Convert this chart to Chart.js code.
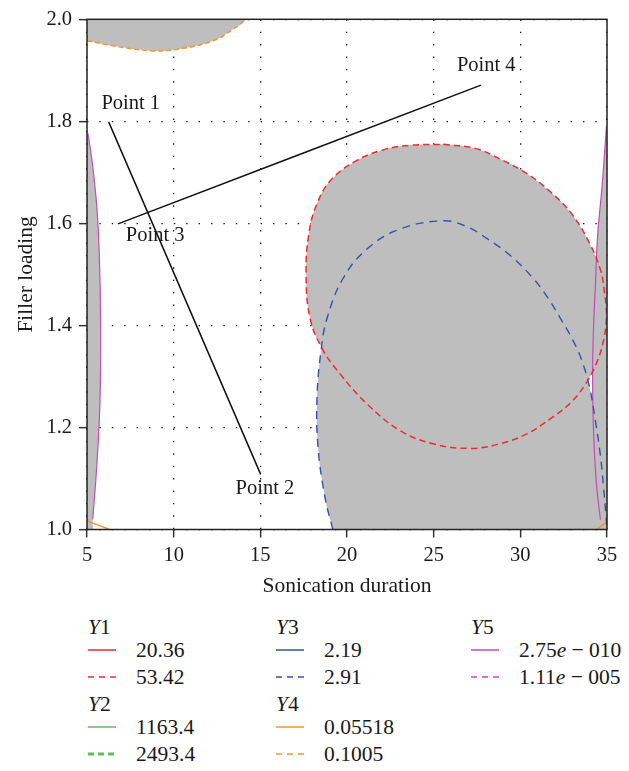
<!DOCTYPE html>
<html>
<head>
<meta charset="utf-8">
<script src="https://cdn.jsdelivr.net/npm/chart.js@4.4.0/dist/chart.umd.min.js"></script>
<style>
  body { margin: 0; background: #fff; }
  #wrap { position: relative; width: 629px; height: 771px; font-family: 'Liberation Serif', serif; color: #1a1a1a; }
  #chartBox { position: absolute; left: 0; top: 0; width: 629px; height: 600px; }
  .lg { position: absolute; font-size: 21.5px; line-height: 24px; white-space: nowrap; }
</style>
</head>
<body>
<div id="wrap">
  <div id="chartBox"><canvas id="chart"></canvas></div>
  <div id="legend"></div>
</div>
<script>
// axes
const xTicks = [5, 10, 15, 20, 25, 30, 35];
const yTicks = [1.0, 1.2, 1.4, 1.6, 1.8, 2.0];

// Y1 = 53.42 (dashed red), closed contour
const y1DashX = [25.55, 27.40, 28.84, 30.40, 31.73, 33.00, 34.04, 34.62, 34.85, 34.97, 34.79, 34.39, 33.76, 32.89, 31.73, 30.40, 28.84, 27.11, 24.97, 23.06, 21.16, 19.60, 18.56, 17.87, 17.64, 17.80, 18.25, 19.05, 20.50, 22.08, 23.64, 25.55];
const y1DashY = [1.755, 1.747, 1.726, 1.697, 1.662, 1.617, 1.558, 1.509, 1.466, 1.418, 1.369, 1.326, 1.285, 1.248, 1.217, 1.188, 1.168, 1.159, 1.168, 1.194, 1.246, 1.305, 1.355, 1.414, 1.499, 1.580, 1.637, 1.684, 1.722, 1.744, 1.753, 1.755];

// Y3 = 2.91 (dashed blue)
const y3DashX = [19.18, 18.73, 18.33, 18.27, 18.50, 18.85, 19.77, 21.16, 23.06, 25.55, 26.82, 28.09, 29.42, 30.75, 31.61, 32.31, 33.00, 33.52, 33.98, 34.33, 34.62, 34.79, 34.94, 35.0];
const y3DashY = [1.0, 1.063, 1.161, 1.258, 1.350, 1.414, 1.492, 1.550, 1.589, 1.605, 1.595, 1.570, 1.537, 1.492, 1.453, 1.414, 1.373, 1.334, 1.281, 1.213, 1.145, 1.087, 1.028, 1.0];

// Y4 = 0.1005 (dashed orange, top) and 0.05518 (solid orange, corners)
const y4DashX = [5.0, 6.52, 8.83, 10.37, 12.29, 13.44, 14.15];
const y4DashY = [1.958, 1.948, 1.938, 1.942, 1.958, 1.981, 2.0];
const y4LeftX = [5.0, 6.31];
const y4LeftY = [1.017, 1.0];
const y4RightX = [34.39, 35.0];
const y4RightY = [1.0, 1.015];

// Y5 = 2.75e-010 (solid purple)
const y5LeftX = [5.05, 5.3, 5.56, 5.71, 5.79, 5.75, 5.56, 5.33];
const y5LeftY = [1.777, 1.72, 1.635, 1.538, 1.394, 1.252, 1.122, 1.02];
const y5RightX = [34.97, 34.72, 34.46, 34.33, 34.21, 34.17, 34.23, 34.39, 34.62];
const y5RightY = [1.791, 1.674, 1.577, 1.479, 1.382, 1.298, 1.187, 1.09, 1.019];

// design points
const pointNames = ['Point 1', 'Point 2', 'Point 3', 'Point 4'];
const pointTextX = [5.83, 13.57, 7.24, 26.34];
const pointTextY = [1.824, 1.069, 1.566, 1.898];
const path12X = [6.25, 15.02];
const path12Y = [1.799, 1.108];
const path34X = [6.79, 27.73];
const path34Y = [1.599, 1.871];

// legend
const legendGroups = ['Y1', 'Y2', 'Y3', 'Y4', 'Y5'];
const legendLevels = [['20.36', '53.42'], ['1163.4', '2493.4'], ['2.19', '2.91'], ['0.05518', '0.1005'], ['2.75e − 010', '1.11e − 005']];

const colors = ['#ee2b2f', '#5cbf5c', '#3552a6', '#f29630', '#c24db6'];
const GRAY = '#bebebe';
const FONT = "'Liberation Serif', serif";

const pts = (xs, ys) => xs.map((x, i) => ({ x, y: ys[i] }));

function region(xs, ys, extra) {
  return {
    data: pts(xs, ys).concat(extra.map(p => ({ x: p[0], y: p[1] }))),
    showLine: true, fill: 'shape', backgroundColor: GRAY,
    borderWidth: 0, pointRadius: 0, tension: 0.4
  };
}
function curve(xs, ys, color, dash, width) {
  return {
    data: pts(xs, ys), showLine: true, fill: false,
    borderColor: color, borderWidth: width || 1.4, borderDash: dash || [],
    pointRadius: 0, tension: 0.4
  };
}

const datasets = [
  region(y4DashX, y4DashY, [[14.3, 2.05], [4.8, 2.05], [4.8, 1.958]]),
  region(y5LeftX, y5LeftY, [[5.3, 0.98], [4.8, 0.98], [4.8, 1.777]]),
  region(y5RightX, y5RightY, [[34.7, 0.98], [35.3, 0.98], [35.3, 1.791]]),
  region(y1DashX, y1DashY, []),
  region(y3DashX, y3DashY, []),
  curve(y4DashX, y4DashY, colors[3], [5, 3], 1.5),
  curve(y1DashX, y1DashY, colors[0], [6.5, 4], 1.5),
  curve(y3DashX, y3DashY, colors[2], [8, 6], 1.4),
  curve(y5LeftX, y5LeftY, colors[4], [], 1.2),
  curve(y5RightX, y5RightY, colors[4], [], 1.2),
  curve(y4LeftX, y4LeftY, colors[3], [], 1.5),
  curve(y4RightX, y4RightY, colors[3], [], 1.5),
  curve(path12X, path12Y, '#111', [], 1.5),
  curve(path34X, path34Y, '#111', [], 1.5)
];

const framePlugin = {
  id: 'frame',
  afterDatasetsDraw(chart) {
    const { ctx, chartArea: a, scales } = chart;
    ctx.save();
    ctx.font = "20.5px " + FONT;
    ctx.fillStyle = '#1a1a1a';
    ctx.textAlign = 'left';
    ctx.textBaseline = 'alphabetic';
    pointNames.forEach((t, i) => {
      ctx.fillText(t, scales.x.getPixelForValue(pointTextX[i]), scales.y.getPixelForValue(pointTextY[i]));
    });
    ctx.strokeStyle = '#222';
    ctx.lineWidth = 1.5;
    ctx.strokeRect(a.left, a.top, a.width, a.height);
    ctx.restore();
  }
};

const axisCommon = {
  type: 'linear',
  grid: { color: '#111', lineWidth: 1.3, tickLength: 8, tickColor: '#333', tickWidth: 1.5, tickBorderDash: [] },
  border: { display: false, dash: [1.4, 11] }
};

new Chart(document.getElementById('chart'), {
  type: 'scatter',
  data: { datasets },
  options: {
    responsive: true,
    maintainAspectRatio: false,
    animation: false,
    layout: { padding: { top: 16, right: 22, left: 0, bottom: 0 } },
    plugins: {
      legend: { display: false },
      tooltip: { enabled: false },
      filler: { drawTime: 'beforeDatasetsDraw' }
    },
    scales: {
      x: {
        ...axisCommon,
        min: 5, max: 35,
        afterBuildTicks: s => { s.ticks = xTicks.map(v => ({ value: v })); },
        afterFit: s => { s.height = 70.5; s.paddingLeft = 0; s.paddingRight = 0; },
        ticks: { font: { family: FONT, size: 20.5 }, color: '#1a1a1a', padding: 6, maxRotation: 0 },
        title: { display: true, text: 'Sonication duration', font: { family: FONT, size: 21.5 }, color: '#1a1a1a', padding: { top: 0, bottom: 1 } }
      },
      y: {
        ...axisCommon,
        min: 1, max: 2,
        afterBuildTicks: s => { s.ticks = yTicks.map(v => ({ value: v })); },
        afterFit: s => { s.width = 87; },
        ticks: { font: { family: FONT, size: 20.5 }, color: '#1a1a1a', padding: 7, callback: v => v.toFixed(1) },
        title: { display: true, text: 'Filler loading', font: { family: FONT, size: 21.5 }, color: '#1a1a1a', padding: { top: 13, bottom: 0 } }
      }
    }
  },
  plugins: [framePlugin]
});

// legend below the plot, three columns
const colX = [88, 276, 471];
const titleY = [627, 704];
const legend = document.getElementById('legend');
legendGroups.forEach((g, i) => {
  const left = colX[Math.floor(i / 2)];
  const top = titleY[i % 2];
  let html = `<div class="lg" style="left:${left}px;top:${top - 12}px"><i>${g[0]}</i>${g.slice(1)}</div>`;
  legendLevels[i].forEach((lv, j) => {
    const cy = top + 23 + j * 27;
    const dash = j === 1 ? (i === 1 ? '6 4' : '6 5') : 'none';
    const w = (j === 1 && i === 1) ? 3 : 1.5;
    html += `<svg style="position:absolute;left:${left}px;top:${cy - 3}px" width="29" height="6"><line x1="0" y1="3" x2="28" y2="3" stroke="${colors[i]}" stroke-width="${w}" stroke-dasharray="${dash}"/></svg>`;
    html += `<div class="lg" style="left:${left + 48}px;top:${cy - 12}px">${lv.replace('e', '<i>e</i>')}</div>`;
  });
  legend.insertAdjacentHTML('beforeend', html);
});
</script>
</body>
</html>
